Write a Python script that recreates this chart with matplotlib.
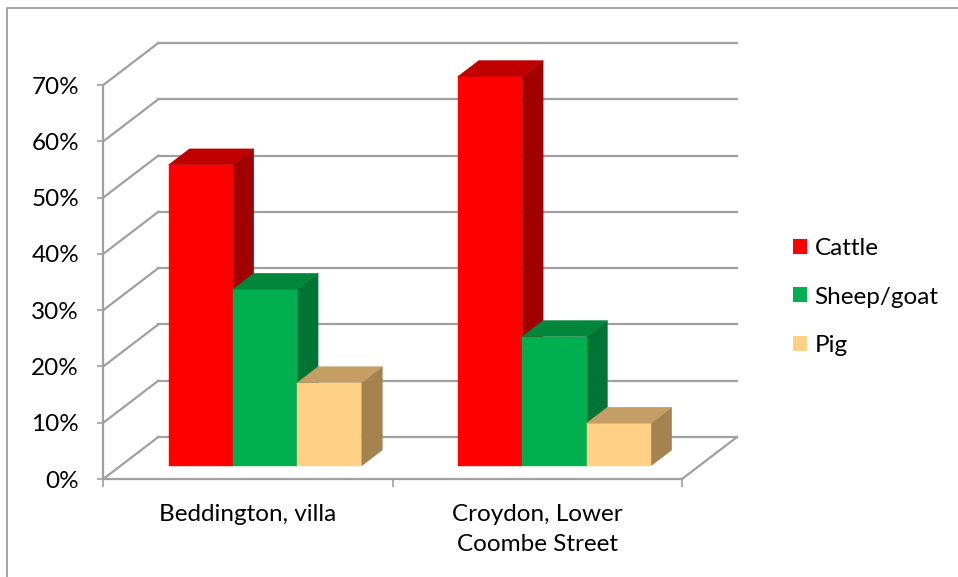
import matplotlib
matplotlib.use("Agg")
import matplotlib.pyplot as plt
from matplotlib.patches import Polygon, Patch
from matplotlib.lines import Line2D

# ---- data ----
categories = ["Beddington, villa", "Croydon, Lower\nCoombe Street"]
series = ["Cattle", "Sheep/goat", "Pig"]
cattle = [53.5, 69.2]
sheep_goat = [31.4, 23.0]
pig = [14.8, 7.6]
values = [cattle, sheep_goat, pig]
y_ticks = [0, 10, 20, 30, 40, 50, 60, 70]
y_tick_labels = ["0%", "10%", "20%", "30%", "40%", "50%", "60%", "70%"]

# ---- styles ----
front_cols = ["#FF0000", "#00B050", "#FFD085"]
top_cols = ["#C00000", "#00873C", "#C49E64"]
side_cols = ["#A00000", "#007434", "#A3844F"]
grid_col = "#A0A0A0"
FONT = ["Lato", "DejaVu Sans"]
FS = 17.5

plt.rcParams['font.family'] = FONT

W, H = 958, 577
fig = plt.figure(figsize=(W / 100, H / 100), dpi=100)

# front plane of the plot in pixels
x0px, x2px = 103.3, 682.0
y0px, y70px = 479.0, 85.0
ax = fig.add_axes([x0px / W, 1 - y0px / H, (x2px - x0px) / W, (y0px - y70px) / H])
ax.set_xlim(0, 2)
ax.set_ylim(0, 70)

px_per_cat = (x2px - x0px) / 2
px_per_pct = (y0px - y70px) / 70
# depth direction (full depth of the floor)
DX = 55.0 / px_per_cat
DY = 42.0 / px_per_pct

# back wall gridlines and side wall diagonals
for v in y_ticks:
    ax.add_line(Line2D([DX, 2 + DX], [v + DY, v + DY], color=grid_col, lw=1.6,
                       clip_on=False, zorder=1))
    ax.add_line(Line2D([0, DX], [v, v + DY], color=grid_col, lw=1.6,
                       clip_on=False, zorder=1))
# right floor edge
ax.add_line(Line2D([2, 2 + DX], [0, DY], color=grid_col, lw=1.6, clip_on=False, zorder=1))

# bars
d0, d1 = 0.31, 0.69
gap = 1 / 6.0
bw = (1 - 2 * gap) / 3
for ci in range(len(categories)):
    for si in range(len(series)):
        v = values[si][ci]
        xl = ci + gap + si * bw
        xr = xl + bw
        ox0, oy0 = d0 * DX, d0 * DY
        ox1, oy1 = d1 * DX, d1 * DY
        front = [(xl + ox0, oy0), (xr + ox0, oy0), (xr + ox0, v + oy0), (xl + ox0, v + oy0)]
        top = [(xl + ox0, v + oy0), (xr + ox0, v + oy0), (xr + ox1, v + oy1), (xl + ox1, v + oy1)]
        side = [(xr + ox0, oy0), (xr + ox1, oy1), (xr + ox1, v + oy1), (xr + ox0, v + oy0)]
        for pts, col in ((side, side_cols[si]), (front, front_cols[si]), (top, top_cols[si])):
            ax.add_patch(Polygon(pts, closed=True, facecolor=col, edgecolor=col, lw=0.3,
                                 clip_on=False, zorder=3))

# axes styling
for s in ["top", "right"]:
    ax.spines[s].set_visible(False)
for s in ["left", "bottom"]:
    ax.spines[s].set_color(grid_col)
    ax.spines[s].set_linewidth(1.6)
ax.set_facecolor("none")
ax.set_yticks(y_ticks)
ax.set_yticklabels(y_tick_labels, fontsize=FS)
ax.tick_params(axis="y", length=4.5, width=1.2, color=grid_col, pad=13)
ax.set_xticks([0, 1, 2])
ax.set_xticklabels(["", "", ""])
ax.tick_params(axis="x", which="major", length=6, width=1.2, color=grid_col)
ax.set_xticks([0.5, 1.5], minor=True)
ax.set_xticklabels(categories, minor=True, fontsize=FS, linespacing=1.55)
ax.tick_params(axis="x", which="minor", length=0, pad=18)

# legend
handles = [Patch(facecolor=c, edgecolor="none") for c in front_cols]
fig.legend(handles, series, loc="center left", bbox_to_anchor=(793 / W, 1 - 297 / H),
           frameon=False, fontsize=FS, borderpad=0, borderaxespad=0,
           handlelength=0.58, handleheight=0.58, handletextpad=0.3, labelspacing=1.12)

# chart border
fig.add_artist(Line2D([6.5 / W, 6.5 / W, 1.0], [0.0, 1 - 7.5 / H, 1 - 7.5 / H],
                      transform=fig.transFigure, color="#A6A6A6", lw=1.4))

fig.savefig("out.png", dpi=100)
